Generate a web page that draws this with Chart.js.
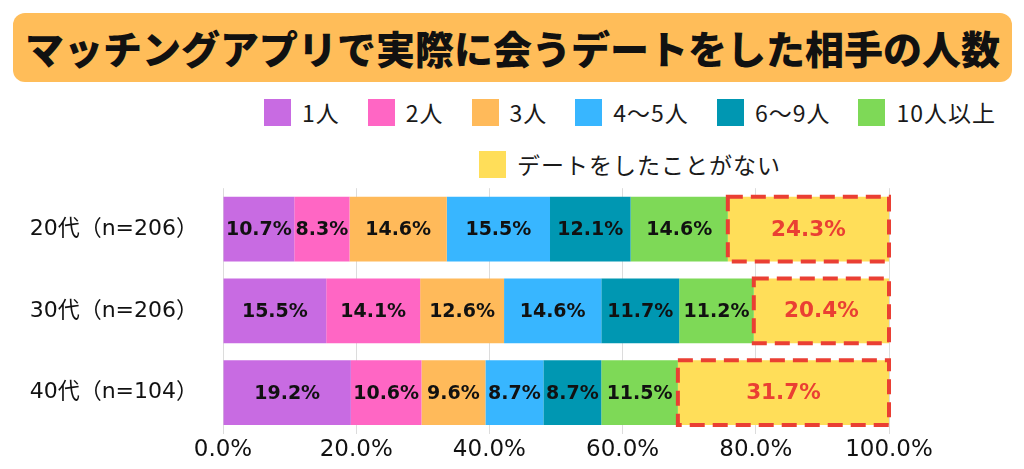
<!DOCTYPE html>
<html lang="ja">
<head>
<meta charset="utf-8">
<script src="https://cdn.jsdelivr.net/npm/chart.js@4.4.0/dist/chart.umd.min.js"></script>
<style>
  html, body { margin: 0; padding: 0; background: #fff; }
  body { width: 1024px; height: 469px; position: relative; overflow: hidden; font-family: "Noto Sans CJK JP", sans-serif; }
  #title { position: absolute; left: 13px; top: 13px; width: 999px; height: 69px; background: #FFBD59; border-radius: 12px;
           text-align: center; font-size: 39px; font-weight: 900; line-height: 69px; color: #111; }
  #legend { position: absolute; left: 262px; top: 95px; width: 736px; }
  .row { display: flex; justify-content: center; column-gap: 28px; height: 34px; align-items: center; margin-bottom: 18px; }
  .item { display: flex; align-items: center; font-size: 23px; letter-spacing: 1px; color: #1a1a1a; }
  .box { width: 27px; height: 27px; margin-right: 11px; }
  #wrap { position: absolute; left: 0; top: 158px; width: 1024px; height: 311px; }
</style>
</head>
<body>
<div id="title">マッチングアプリで実際に会うデートをした相手の人数</div>
<div id="legend"></div>
<div id="wrap"><canvas id="chart"></canvas></div>
<script>
// --- データ ---
const categories = ["20代（n=206）", "30代（n=206）", "40代（n=104）"];
const seriesNames = ["1人", "2人", "3人", "4〜5人", "6〜9人", "10人以上", "デートをしたことがない"];
const one = [10.7, 15.5, 19.2];
const two = [8.3, 14.1, 10.6];
const three = [14.6, 12.6, 9.6];
const fourToFive = [15.5, 14.6, 8.7];
const sixToNine = [12.1, 11.7, 8.7];
const tenPlus = [14.6, 11.2, 11.5];
const never = [24.3, 20.4, 31.7];
const xTicks = [0, 20, 40, 60, 80, 100];

const colors = ["#C86BE2", "#FF66C4", "#FFBA5A", "#38B6FF", "#0097B2", "#7ED957", "#FFDE59"];
const seriesValues = [one, two, three, fourToFive, sixToNine, tenPlus, never];
const RED = "#EA3F33";
const FONT = "'DejaVu Sans', 'Noto Sans CJK JP'";

// --- 凡例 (HTML) ---
const legendEl = document.getElementById("legend");
[[0, 1, 2, 3, 4, 5], [6]].forEach(idxs => {
  const row = document.createElement("div");
  row.className = "row";
  idxs.forEach(i => {
    row.innerHTML += `<div class="item"><span class="box" style="background:${colors[i]}"></span>${seriesNames[i]}</div>`;
  });
  legendEl.appendChild(row);
});

// --- ラベルと点線枠 ---
const labelPlugin = {
  id: "valueLabels",
  afterDatasetsDraw(chart) {
    const ctx = chart.ctx;
    const area = chart.chartArea;
    const last = chart.data.datasets.length - 1;
    chart.data.datasets.forEach((ds, di) => {
      const meta = chart.getDatasetMeta(di);
      meta.data.forEach((bar, i) => {
        const p = bar.getProps(["x", "y", "base", "height"], true);
        const right = Math.min(p.x, area.right);
        const cx = (p.base + right) / 2;
        ctx.save();
        ctx.textAlign = "center";
        ctx.textBaseline = "middle";
        if (di === last) {
          ctx.setLineDash([15, 8]);
          ctx.lineWidth = 4;
          ctx.strokeStyle = RED;
          ctx.strokeRect(p.base, p.y - p.height / 2, right - p.base, p.height);
          ctx.fillStyle = RED;
          ctx.font = "bold 21.5px " + FONT;
        } else {
          ctx.fillStyle = "#111";
          ctx.font = "bold 19px " + FONT;
        }
        ctx.fillText(ds.data[i].toFixed(1) + "%", cx, p.y + 1);
        ctx.restore();
      });
    });
  }
};

new Chart(document.getElementById("chart"), {
  type: "bar",
  data: {
    labels: categories,
    datasets: seriesNames.map((name, i) => ({
      label: name,
      data: seriesValues[i],
      backgroundColor: colors[i],
      borderWidth: 0,
      categoryPercentage: 1,
      barPercentage: 0.79
    }))
  },
  options: {
    indexAxis: "y",
    responsive: true,
    maintainAspectRatio: false,
    animation: false,
    layout: { padding: { top: 0, right: 135, bottom: 0, left: 0 } },
    plugins: { legend: { display: false }, tooltip: { enabled: false } },
    scales: {
      x: {
        stacked: true,
        min: 0,
        max: 100,
        afterBuildTicks: scale => { scale.ticks = xTicks.map(v => ({ value: v })); },
        afterFit: scale => { scale.height = 35.5; },
        grid: { color: "#dcdcdc", lineWidth: 1, drawTicks: false },
        border: { display: false },
        ticks: {
          padding: 3,
          color: "#111",
          font: { family: FONT, size: 23 },
          callback: v => v.toFixed(1) + "%"
        }
      },
      y: {
        stacked: true,
        afterFit: scale => { scale.width = 223; },
        grid: { display: false },
        border: { display: false },
        ticks: {
          padding: 17,
          color: "#111",
          font: { family: FONT, size: 22 }
        }
      }
    }
  },
  plugins: [labelPlugin]
});
</script>
</body>
</html>
